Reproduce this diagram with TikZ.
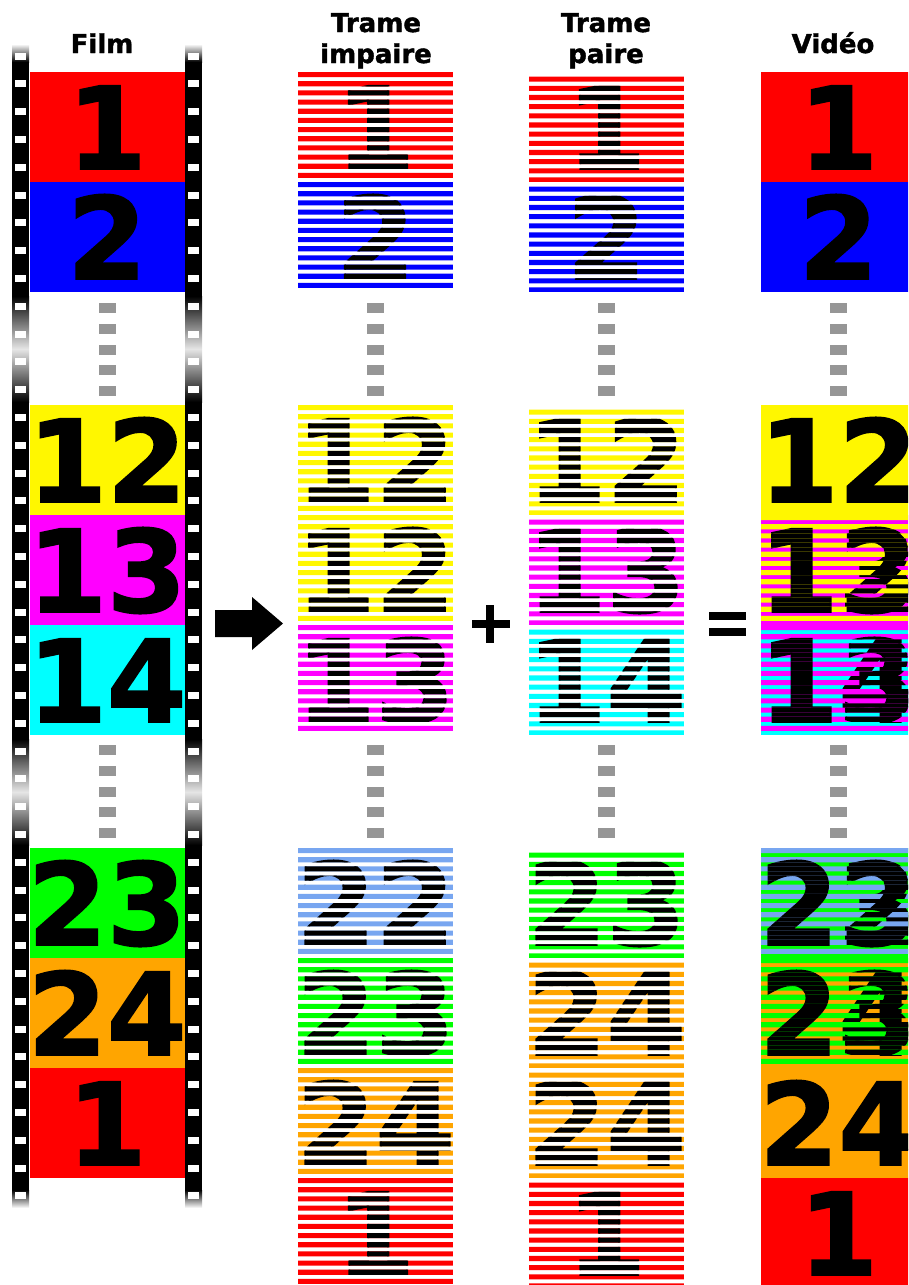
\documentclass[tikz,border=0pt]{standalone}
\usepackage{fontspec}
\setmainfont{DejaVu Sans}
\newfontfamily\numfont{DejaVu Sans Bold}[FakeBold=1.6]
\usepackage{tikz}
\definecolor{frRed}{HTML}{FF0000}
\definecolor{frBlue}{HTML}{0000FF}
\definecolor{frYellow}{HTML}{FFF700}
\definecolor{frMagenta}{HTML}{FF00FF}
\definecolor{frCyan}{HTML}{00FFFF}
\definecolor{frSky}{HTML}{78A6F0}
\definecolor{frGreen}{HTML}{00FF00}
\definecolor{frOrange}{HTML}{FFA500}
\definecolor{frGap}{HTML}{969696}
\tikzset{
  numtext/.style={anchor=base, inner sep=0pt, text=black,
                  font=\numfont\fontsize{114}{114}\selectfont},
  coltitle/.style={anchor=base, inner sep=0pt, align=center,
                   font=\numfont\fontsize{26}{31}\selectfont},
  gapdot/.style={fill=frGap},
  perf/.style={fill=white},
  sign/.style={fill=black},
}
% half line of a frame (110/24)
\newcommand{\lh}{4.5833}
% name, x, y, colour, number
\newcommand{\fullframe}[5]{%
  \fill[#4] (#2,#3) rectangle ++(155,110);
  \node[numtext] (#1) at (#2+77.5,#3+97) {#5};}
% name, x, y, colour, number, shift (0 odd lines, 1 even lines)
\newcommand{\fieldframe}[6]{%
  \begin{scope}
    \clip \foreach \k in {0,...,11} {(#2,#3+2*\k*\lh+#6*\lh) rectangle ++(155,\lh+0.5)};
    \fullframe{#1}{#2}{#3}{#4}{#5}
  \end{scope}}
% name, x, y, odd colour, odd number, even colour, even number
\newcommand{\videoframe}[7]{%
  \fullframe{#1e}{#2}{#3}{#6}{#7}
  \fieldframe{#1o}{#2}{#3}{#4}{#5}{0}}

\begin{document}
\begin{tikzpicture}[x=1pt,y=-1pt]
  \useasboundingbox (0,0) rectangle (908,1285);
  \clip (0,0) rectangle (908,1285);

  % film strip
  \foreach \sx in {12,185} {
    \fill[black] (\sx,45) rectangle ++(17,1162);
    \shade[top color=white, bottom color=black] (\sx,44) rectangle ++(17,18);
    \shade[top color=black, bottom color=white] (\sx,1190) rectangle ++(17,18);
    \foreach \gy in {296,739}
      \shade[top color=black, bottom color=black, middle color=black!10] (\sx,\gy) rectangle ++(17,106);
    \foreach \k in {0,...,41}
      \fill[perf] (\sx+3,52.5+\k*27.8) rectangle ++(11,7);
  }
  \foreach \y/\c/\n in {72/frRed/1, 182/frBlue/2, 405/frYellow/12, 515/frMagenta/13,
                        625/frCyan/14, 848/frGreen/23, 958/frOrange/24, 1068/frRed/1}
    {\fullframe{film\y}{29.5}{\y}{\c}{\n}}

  % fields
  \foreach \y/\c/\n in {72/frRed/1, 182/frBlue/2, 405/frYellow/12, 515/frYellow/12,
                        625/frMagenta/13, 848/frSky/22, 958/frGreen/23, 1068/frOrange/24,
                        1178/frRed/1}
    {\fieldframe{odd\y}{298}{\y}{\c}{\n}{0}}
  \foreach \y/\c/\n in {72/frRed/1, 182/frBlue/2, 405/frYellow/12, 515/frMagenta/13,
                        625/frCyan/14, 848/frGreen/23, 958/frOrange/24, 1068/frOrange/24,
                        1178/frRed/1}
    {\fieldframe{even\y}{529}{\y}{\c}{\n}{1}}

  % video
  \foreach \y/\c/\n in {72/frRed/1, 182/frBlue/2, 405/frYellow/12, 1068/frOrange/24, 1178/frRed/1}
    {\fullframe{vid\y}{761}{\y}{\c}{\n}}
  \foreach \y/\ca/\na/\cb/\nb in {515/frYellow/12/frMagenta/13, 625/frMagenta/13/frCyan/14,
                                  848/frSky/22/frGreen/23, 958/frGreen/23/frOrange/24}
    {\videoframe{vid\y}{761}{\y}{\ca}{\na}{\cb}{\nb}}

  % skipped frames
  \foreach \cx in {107,375.5,606.5,838.5}
    \foreach \gy in {303,745}
      \foreach \k in {0,...,4}
        \fill[gapdot] (\cx-8.5,\gy+\k*20.8) rectangle ++(17,10);

  \node[coltitle] (tFilm) at (102,53) {Film};
  \node[coltitle] (tOdd) at (376,63) {Trame\\impaire};
  \node[coltitle] (tEven) at (606,63) {Trame\\paire};
  \node[coltitle] (tVideo) at (833,53) {Vidéo};

  \fill[sign] (215,610) -- (252,610) -- (252,597) -- (283,623.5) -- (252,650)
              -- (252,637) -- (215,637) -- cycle;
  \fill[sign] (472,620) rectangle (510,627.5);
  \fill[sign] (486,605) rectangle (494,643);
  \fill[sign] (709,612) rectangle (746,620);
  \fill[sign] (709,628) rectangle (746,635.5);
\end{tikzpicture}
\end{document}
